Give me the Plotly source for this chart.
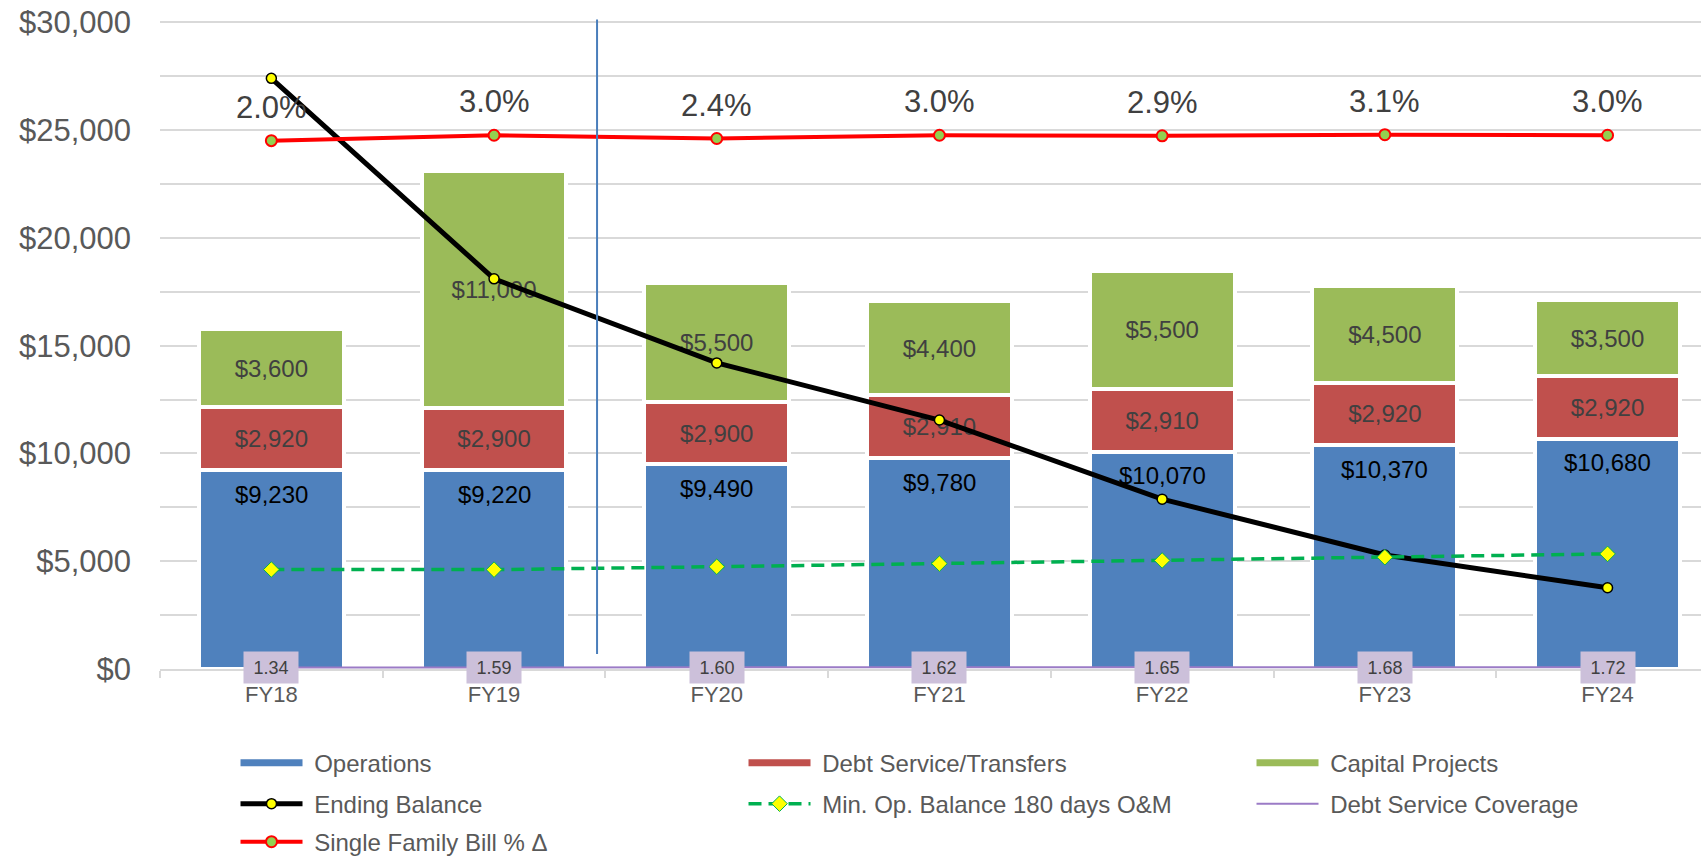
import plotly.graph_objects as go

# ---------------- data ----------------
years = ["FY18", "FY19", "FY20", "FY21", "FY22", "FY23", "FY24"]
operations = [9230, 9220, 9490, 9780, 10070, 10370, 10680]
debt_service = [2920, 2900, 2900, 2910, 2910, 2920, 2920]
capital_projects = [3600, 11000, 5500, 4400, 5500, 4500, 3500]
ending_balance = [27400, 18100, 14200, 11550, 7880, 5290, 3770]
min_op_balance = [4615, 4610, 4745, 4890, 5035, 5185, 5340]
debt_coverage = [1.34, 1.59, 1.60, 1.62, 1.65, 1.68, 1.72]
bill_change_pct = [2.0, 3.0, 2.4, 3.0, 2.9, 3.1, 3.0]

# ---------------- style ----------------
FONT = "Arial, Liberation Sans, sans-serif"
BLUE = "#4F81BD"
RED = "#C0504D"
GREEN = "#9BBB59"
GRID = "#D9D9D9"
AXIS_TXT = "#595959"
LABEL_TXT = "#404040"
NB = "\u00a0"


def money(v):
    return "${:,}".format(v)


fig = go.Figure()

# stacked bars
fig.add_trace(go.Bar(
    x=years, y=operations, name="Operations", showlegend=False,
    marker=dict(color=BLUE, line=dict(color="white", width=4)),
    hoverinfo="y"))
fig.add_trace(go.Bar(
    x=years, y=debt_service, name="Debt Service/Transfers", showlegend=False,
    marker=dict(color=RED, line=dict(color="white", width=4)),
    text=[money(v) for v in debt_service], textposition="inside",
    insidetextanchor="middle", textangle=0, constraintext="none",
    textfont=dict(size=24, color=LABEL_TXT, family=FONT)))
fig.add_trace(go.Bar(
    x=years, y=capital_projects, name="Capital Projects", showlegend=False,
    marker=dict(color=GREEN, line=dict(color="white", width=4)),
    text=[money(v) for v in capital_projects], textposition="inside",
    insidetextanchor="middle", textangle=0, constraintext="none",
    textfont=dict(size=24, color=LABEL_TXT, family=FONT)))

# legend entries for the bar series (row 1)
for nm, col in [("Operations", BLUE), ("Debt Service/Transfers", RED),
                ("Capital Projects", GREEN)]:
    fig.add_trace(go.Scatter(x=[None], y=[None], mode="lines", name=NB + nm,
                             line=dict(color=col, width=7), legend="legend"))

# lines
fig.add_trace(go.Scatter(
    x=years, y=ending_balance, name=NB + "Ending Balance",
    mode="lines+markers", legend="legend2", legendrank=1,
    line=dict(color="black", width=5),
    marker=dict(symbol="circle", size=10, color="#FFFF00",
                line=dict(color="black", width=1.5))))
fig.add_trace(go.Scatter(
    x=years, y=min_op_balance, name=NB + "Min. Op. Balance 180 days O&M",
    mode="lines+markers", legend="legend2", legendrank=2,
    line=dict(color="#00B050", width=3.5, dash="13px,7px"),
    marker=dict(symbol="diamond", size=12, color="#FFFF00",
                line=dict(color="#00B050", width=1))))
fig.add_trace(go.Scatter(
    x=years, y=debt_coverage, name=NB + "Debt Service Coverage", yaxis="y3",
    mode="lines", legend="legend2", legendrank=3,
    line=dict(color="#9B7BC6", width=2)))
fig.add_trace(go.Scatter(
    x=years, y=bill_change_pct, name=NB + "Single Family Bill % \u0394", yaxis="y2",
    mode="lines+markers", legend="legend3",
    line=dict(color="#FF0000", width=4),
    marker=dict(symbol="circle", size=11, color="#92D050",
                line=dict(color="#FF0000", width=2))))

# ---------------- annotations ----------------
annotations = []
for x, v in zip(years, operations):
    annotations.append(dict(x=x, y=v, xref="x", yref="y", text=money(v),
                            showarrow=False, yshift=-24, yanchor="middle",
                            font=dict(size=24, color="black", family=FONT)))
for x, p in zip(years, bill_change_pct):
    annotations.append(dict(x=x, y=p, xref="x", yref="y2", text="{:.1f}%".format(p),
                            showarrow=False, yshift=33.5, yanchor="middle",
                            font=dict(size=31, color=LABEL_TXT, family=FONT)))
for x, d in zip(years, debt_coverage):
    annotations.append(dict(x=x, y=d, xref="x", yref="y3", text="{:.2f}".format(d),
                            showarrow=False, yanchor="middle", bgcolor="#CCC0DA",
                            width=52, height=29,
                            font=dict(size=18, color=LABEL_TXT, family=FONT)))

W, H = 1701, 860
ML, MR, MT, MB = 160, 0, 21.4, 191.0
plot_h = H - MT - MB

leg_common = dict(orientation="h", font=dict(size=24, color=AXIS_TXT, family=FONT),
                  bgcolor="rgba(0,0,0,0)", itemwidth=62, entrywidth=431,
                  xanchor="left", yanchor="middle", x=0.049,
                  traceorder="normal", itemclick=False, itemdoubleclick=False)


def leg_y(px):
    return (H - MB - px) / plot_h


fig.update_layout(
    width=W, height=H,
    margin=dict(l=ML, r=MR, t=MT, b=MB, autoexpand=False),
    paper_bgcolor="white", plot_bgcolor="white",
    font=dict(family=FONT, color=AXIS_TXT),
    barmode="stack", bargap=0.35,
    showlegend=True,
    legend=dict(y=leg_y(763), **leg_common),
    legend2=dict(y=leg_y(804), **leg_common),
    legend3=dict(y=leg_y(842), **leg_common),
    xaxis=dict(type="category", categoryorder="array", categoryarray=years,
               range=[-0.5, -0.5 + (W - ML - MR) / 222.7],
               showline=True, linecolor=GRID, linewidth=1.5,
               ticks="outside", tickson="boundaries", ticklen=7, tickcolor=GRID,
               tickwidth=1.5, showgrid=False, ticklabelstandoff=5,
               tickfont=dict(size=22, color=AXIS_TXT, family=FONT)),
    yaxis=dict(range=[0, 30060], dtick=5000, tick0=0, tickprefix="$", tickformat=",",
               showgrid=True, gridcolor=GRID, gridwidth=1.5,
               minor=dict(dtick=2500, showgrid=True, gridcolor=GRID, gridwidth=1.5),
               zeroline=False, showline=False, ticks="", ticklabelstandoff=28,
               tickfont=dict(size=31, color=AXIS_TXT, family=FONT)),
    yaxis2=dict(overlaying="y", range=[-95.25, 24.03], visible=False),
    yaxis3=dict(overlaying="y", range=[0, 600], visible=False),
    annotations=annotations,
    shapes=[dict(type="line", xref="x", yref="paper", x0=1.4625, x1=1.4625,
                 y0=(H - MB - 654) / plot_h, y1=(H - MB - 20) / plot_h,
                 line=dict(color="#4A7EBB", width=2))],
)

fig.write_html(
    "out.html",
    config={"displayModeBar": False},
    post_script="document.body.style.margin='0px';"
                "document.documentElement.style.margin='0px';"
                "document.body.style.overflow='hidden';",
)
